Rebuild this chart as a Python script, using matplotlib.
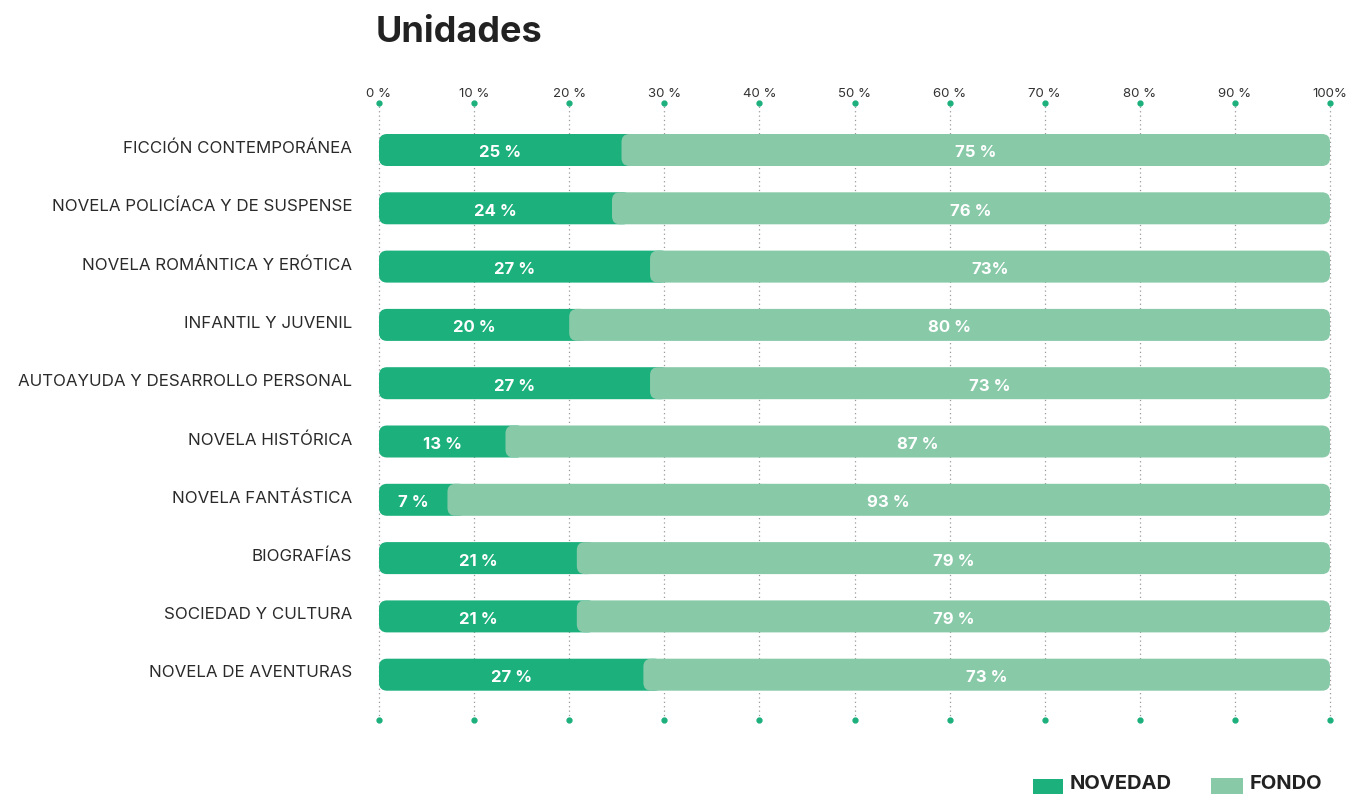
import matplotlib.pyplot as plt
from matplotlib.patches import FancyBboxPatch, Rectangle

categories = ['FICCIÓN CONTEMPORÁNEA', 'NOVELA POLICÍACA Y DE SUSPENSE', 'NOVELA ROMÁNTICA Y ERÓTICA',
              'INFANTIL Y JUVENIL', 'AUTOAYUDA Y DESARROLLO PERSONAL', 'NOVELA HISTÓRICA',
              'NOVELA FANTÁSTICA', 'BIOGRAFÍAS', 'SOCIEDAD Y CULTURA', 'NOVELA DE AVENTURAS']
# split point of each bar as drawn in the picture (%)
novedad = [25.5, 24.5, 28.5, 20.0, 28.5, 13.3, 7.2, 20.8, 20.8, 27.8]
novedad_labels = ['25 %', '24 %', '27 %', '20 %', '27 %', '13 %', '7 %', '21 %', '21 %', '27 %']
fondo_labels = ['75 %', '76 %', '73%', '80 %', '73 %', '87 %', '93 %', '79 %', '79 %', '73 %']
ticks = [0, 10, 20, 30, 40, 50, 60, 70, 80, 90, 100]
tick_labels = ['0 %', '10 %', '20 %', '30 %', '40 %', '50 %', '60 %', '70 %', '80 %', '90 %', '100%']

dark = '#1bb07c'
light = '#88c9a8'
font = 'Inter'

W, H = 1349, 794
fig = plt.figure(figsize=(W / 100, H / 100), dpi=100)
top_px, bot_px = 103, 720
ax = fig.add_axes([379 / W, 1 - bot_px / H, 951 / W, (bot_px - top_px) / H])
row0, step = 150, 58.3
ax.set_xlim(0, 100)
ax.set_ylim((bot_px - row0) / step, (top_px - row0) / step)
ax.axis('off')

# grid lines with dots at both ends
for t in ticks:
    ax.plot([t, t], ax.get_ylim(), color='#9a9a9a', lw=0.9, ls=(0, (1, 2.5)), zorder=0, clip_on=False)
    ax.plot([t, t], ax.get_ylim(), ls='none', marker='o', ms=3.5, color=dark, zorder=1, clip_on=False)
    ax.text(t, (top_px - row0) / step - 0.05, tick_labels[t // 10], ha='center', va='bottom',
            fontsize=9.5, color='#333333', family=font)

xpp = 100 / 951
ypp = 1 / step
aspect = ypp / xpp
r = 8 * xpp
bh = 32 / step

for i, (cat, nv) in enumerate(zip(categories, novedad)):
    ax.add_patch(FancyBboxPatch((0, i - bh / 2), nv + 2, bh,
                                boxstyle='round,pad=0,rounding_size=%f' % r,
                                mutation_aspect=aspect, fc=dark, ec='none', zorder=2))
    ax.add_patch(FancyBboxPatch((nv, i - bh / 2), 100 - nv, bh,
                                boxstyle='round,pad=0,rounding_size=%f' % r,
                                mutation_aspect=aspect, fc=light, ec='none', zorder=3))
    ax.text(nv / 2, i + 0.05, novedad_labels[i], ha='center', va='center', color='white',
            fontsize=12, fontweight='bold', family=font, zorder=4)
    ax.text((nv + 100) / 2, i + 0.05, fondo_labels[i], ha='center', va='center', color='white',
            fontsize=12, fontweight='bold', family=font, zorder=4)
    ax.text(-2.8, i - 0.03, cat, ha='right', va='center', fontsize=12.2, color='#2a2a2a',
            family=font)

fig.text(376 / W, 1 - 33 / H, 'Unidades', ha='left', va='center', fontsize=26,
         fontweight='bold', color='#222222', family=font)

# legend
fig.patches.append(Rectangle((1033 / W, 0), 30 / W, 15 / H, transform=fig.transFigure,
                             fc=dark, ec='none'))
fig.text(1070 / W, 1 / H, 'NOVEDAD', ha='left', va='bottom', fontsize=14.5,
         fontweight='bold', color='#222222', family=font)
fig.patches.append(Rectangle((1211 / W, 0), 32 / W, 16 / H, transform=fig.transFigure,
                             fc=light, ec='none'))
fig.text(1250 / W, 1 / H, 'FONDO', ha='left', va='bottom', fontsize=14.5,
         fontweight='bold', color='#222222', family=font)

fig.savefig('out.png', dpi=100)
